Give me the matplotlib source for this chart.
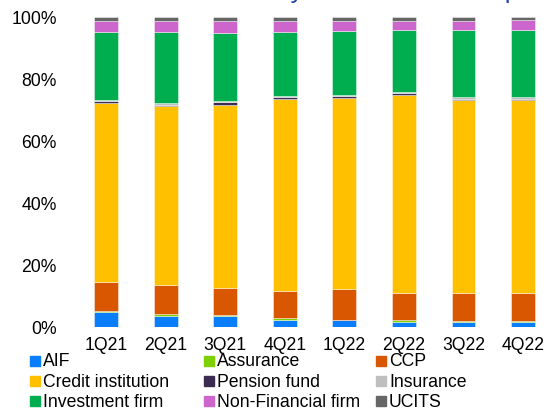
import matplotlib.pyplot as plt
from matplotlib.patches import Rectangle
import numpy as np

plt.rcParams['font.family'] = ['Liberation Sans', 'DejaVu Sans']

quarters = ['1Q21', '2Q21', '3Q21', '4Q21', '1Q22', '2Q22', '3Q22', '4Q22']
sectors = ['AIF', 'Assurance', 'CCP',
           'Credit institution', 'Pension fund', 'Insurance',
           'Investment firm', 'Non-Financial firm', 'UCITS']
colors = ['#0A7EFA', '#7ED000', '#D95700',
          '#FFC000', '#3B2A52', '#BFBFBF',
          '#00AD4F', '#CC66CC', '#666666']

# shares in % per quarter, one list per sector
aif = [4.7, 3.4, 3.4, 2.2, 2.0, 1.6, 1.5, 1.4]
assurance = [0.4, 0.5, 0.4, 0.5, 0.2, 0.4, 0.3, 0.3]
ccp = [9.2, 9.5, 8.7, 8.9, 9.9, 8.9, 9.1, 9.2]
credit = [57.7, 57.6, 59.1, 61.8, 61.7, 63.9, 62.2, 62.1]
pension = [0.7, 0.6, 0.7, 0.5, 0.4, 0.6, 0.4, 0.5]
insurance = [0.5, 0.4, 0.6, 0.6, 0.5, 0.3, 0.5, 0.5]
investment = [21.7, 23.0, 21.9, 20.6, 20.7, 20.1, 21.6, 21.8]
nonfin = [3.8, 3.6, 3.8, 3.5, 3.2, 2.9, 3.1, 3.0]
ucits = [1.3, 1.4, 1.4, 1.4, 1.4, 1.3, 1.3, 1.2]

series = [aif, assurance, ccp, credit, pension, insurance, investment, nonfin, ucits]

fig = plt.figure(figsize=(5.47, 4.10), dpi=100)
ax = fig.add_axes([76.2 / 547, 82.5 / 410, (547 - 76.2) / 547, 310 / 410])

x = np.arange(len(quarters))
bottom = np.zeros(len(quarters))
for vals, c in zip(series, colors):
    v = np.array(vals) / 100
    ax.bar(x, v, width=0.4, bottom=bottom, color=c,
           edgecolor=(1, 1, 1, 0.5), linewidth=0.6)
    bottom += v

ax.set_xlim(-0.5, 7.4)
ax.set_ylim(0, 1)
ax.set_yticks(np.arange(0, 1.01, 0.2))
ax.set_yticklabels(['%d%%' % (t * 100) for t in np.arange(0, 1.01, 0.2)])
ax.set_xticks(x)
ax.set_xticklabels(quarters)
ax.tick_params(axis='both', length=0, labelsize=12.7)
ax.tick_params(axis='y', pad=14)
ax.tick_params(axis='x', pad=7)
for s in ax.spines.values():
    s.set_visible(False)

# title sits almost entirely above the top edge, only its lowest pixels show
fig.text(21 / 547, 1 + 2 / 410, 'Total notional amount by sector of counterparts',
         color='#2446AA', fontsize=18.7, va='baseline', ha='left')

# legend laid out in a 3x3 grid, row-wise
col_x = [30, 204, 376]
row_y = [362, 382.5, 402.5]
for i, (name, c) in enumerate(zip(sectors, colors)):
    cx = col_x[i % 3]
    cy = row_y[i // 3]
    fig.patches.append(Rectangle((cx / 547, (410 - cy - 4.5) / 410), 10 / 547, 10 / 410,
                                 transform=fig.transFigure, color=c, figure=fig))
    fig.text((cx + 13) / 547, (410 - cy) / 410, name, fontsize=12.7,
             va='center', ha='left')

fig.savefig('out.png', dpi=100)
